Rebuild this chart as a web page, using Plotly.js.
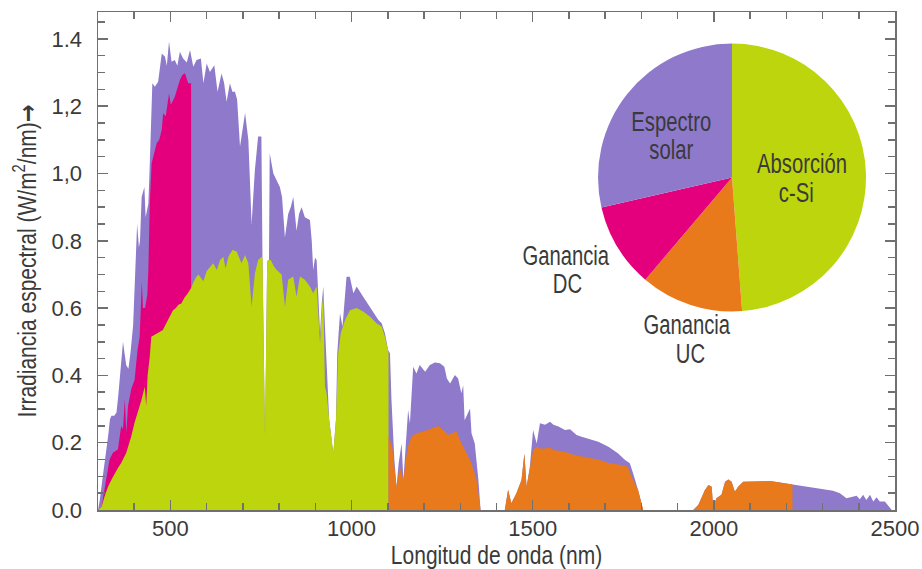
<!DOCTYPE html>
<html>
<head>
<meta charset="utf-8">
<script src="https://cdn.plot.ly/plotly-3.0.1.min.js"></script>
<style>
  html, body { margin: 0; padding: 0; background: #fff; }
  #chart { width: 922px; height: 569px; }
</style>
</head>
<body>
<div id="chart"></div>
<script>
// AM1.5 solar spectrum (W/m²/nm) versus wavelength (nm)
const spectrumNm = [300,305,312,320,328,333,337,345,351,356,360,364,369,374,378,384,390,397,401,405,408,413,416,420.5,428,431.5,439,443,447,450,457,466,476,485,490,496,503,512,519,526,535,545,554,563,572,584,591,600,609,621,630,641,648,655,664,671,678,684,692,699,706,715,724,733,742,751,752,754,761,767,772,774,784,793,802,808,816,825,832,839,848,855,862,871,885,890,894,899,903.5,908,913,918,922,926.5,930,933,938,945,949.5,957,960.5,968,975,986,995,1005,1014,1032,1051,1069,1074,1083,1092,1101,1106,1110,1114,1118,1124,1130,1138,1143,1150,1156,1161,1170,1179,1188,1203,1216,1230,1244,1256,1263,1272,1285,1294,1303,1308,1312,1320,1327,1331,1340,1350,1356,1423,1432,1441,1455,1469,1477,1483,1492,1501,1511,1520,1534,1548,1557,1571,1589,1603,1621,1635,1653,1681,1709,1736,1754,1768,1777,1791,1805,1943,1957,1975,1985,1994,1998,2007,2021,2031,2040,2049,2058,2067,2081,2118,2155,2182,2215,2228,2256,2283,2311,2329,2348,2366,2394,2403,2412,2421,2431,2440,2449,2458,2472,2486,2491,2500];
const spectrumIrr = [0,0.03,0.09,0.15,0.22,0.27,0.28,0.28,0.29,0.34,0.39,0.43,0.50,0.46,0.43,0.42,0.47,0.55,0.68,0.80,0.85,0.78,0.80,0.93,0.96,0.87,0.91,1.03,1.20,1.268,1.258,1.273,1.357,1.347,1.32,1.392,1.332,1.337,1.32,1.362,1.342,1.33,1.367,1.317,1.337,1.342,1.268,1.327,1.302,1.322,1.243,1.297,1.27,1.213,1.268,1.243,1.243,1.22,1.08,1.13,1.18,1.10,0.85,1.01,1.11,1.11,0.753,0.75,0.22,0.74,0.743,1.06,1.00,0.98,0.96,0.93,0.81,0.88,0.90,0.93,0.83,0.88,0.90,0.87,0.862,0.80,0.713,0.75,0.743,0.64,0.525,0.62,0.664,0.545,0.45,0.40,0.27,0.208,0.168,0.27,0.466,0.585,0.545,0.693,0.693,0.644,0.664,0.634,0.604,0.574,0.565,0.555,0.525,0.475,0.466,0.33,0.21,0.15,0.069,0.14,0.198,0.089,0.20,0.297,0.257,0.426,0.406,0.431,0.411,0.431,0.438,0.436,0.426,0.391,0.376,0.401,0.391,0.347,0.371,0.267,0.285,0.302,0.228,0.198,0.089,0,0,0.06,0.02,0.05,0.089,0.168,0.069,0.128,0.238,0.198,0.258,0.253,0.262,0.253,0.248,0.238,0.24,0.223,0.218,0.213,0.203,0.188,0.168,0.149,0.139,0.109,0.059,0,0,0.015,0.059,0.074,0.069,0.01,0.035,0.045,0.084,0.091,0.084,0.054,0.069,0.084,0.086,0.086,0.082,0.076,0.074,0.069,0.064,0.059,0.057,0.05,0.035,0.042,0.032,0.045,0.03,0.045,0.025,0.038,0.025,0.025,0.005,0,0];

// Ganancia DC: down-conversion gain, 300–557 nm
const dcNm = [300,310,316,323,332,341,355,364,369,374,378,383,392,401,409,415,421,424,430,436,439,443,448,455,462,469,476,480,487,496,501,512,519,526,533,540,549,557];
const dcIrr = [0,0.01,0.05,0.09,0.15,0.17,0.18,0.25,0.24,0.33,0.23,0.31,0.36,0.386,0.475,0.515,0.68,0.60,0.60,0.64,0.713,0.911,1.03,1.06,1.09,1.10,1.13,1.179,1.17,1.238,1.204,1.228,1.25,1.278,1.293,1.298,1.268,1.268];

// Absorción c-Si: part of the spectrum absorbed by crystalline silicon
const absorbNm = [300,310,318,328,337,346,355,364,371,378,385,392,401,410,420,429,433,437,443,447,455,461,470,479,486,493,500,507,515,522,530,538,548,557,563,570,577,584,591,600,609,618,628,637,646,652,660,671,683,689,696,706,715,724,733,742,752,754,761,767,772,777,785,793,807,816,825,839,848,857.5,871,885,894,903.5,908,913,918,922,926.5,931,938,945,949.5,957,963,970,982,995.5,1014,1032,1051,1069,1083,1092,1099.5,1102];
const absorbIrr = [0,0.01,0.04,0.07,0.09,0.11,0.125,0.14,0.155,0.17,0.195,0.22,0.26,0.29,0.327,0.366,0.31,0.40,0.456,0.515,0.52,0.525,0.53,0.535,0.55,0.565,0.58,0.594,0.60,0.61,0.614,0.63,0.644,0.66,0.675,0.69,0.70,0.69,0.68,0.71,0.72,0.733,0.713,0.743,0.753,0.718,0.753,0.773,0.768,0.753,0.733,0.758,0.733,0.604,0.703,0.743,0.753,0.75,0.22,0.74,0.743,0.743,0.725,0.713,0.70,0.604,0.684,0.694,0.634,0.694,0.684,0.664,0.644,0.664,0.58,0.495,0.60,0.64,0.366,0.347,0.27,0.208,0.168,0.27,0.466,0.525,0.565,0.594,0.60,0.59,0.574,0.555,0.545,0.515,0.475,0.468];

// Ganancia UC: up-conversion gain, 1102–2217 nm
const ucNm = [1102,1108,1112,1118,1124,1133,1143,1150,1156,1165,1179,1198,1221,1239,1253,1267,1276,1290,1299,1312,1331,1345,1356,1423,1432,1441,1455,1469,1477,1483,1492,1497,1501,1511,1520,1534,1548,1557,1571,1589,1610,1630,1653,1681,1709,1736,1762,1772,1791,1805,1943,1957,1975,1985,1994,1998,2007,2021,2031,2040,2049,2058,2067,2081,2118,2155,2182,2215,2217];
const ucIrr = [0.22,0.20,0.188,0.13,0.069,0.128,0.089,0.15,0.188,0.218,0.228,0.233,0.243,0.25,0.238,0.223,0.228,0.233,0.208,0.178,0.139,0.089,0,0,0.06,0.02,0.05,0.089,0.168,0.069,0.128,0.165,0.178,0.188,0.183,0.183,0.185,0.178,0.175,0.173,0.165,0.16,0.155,0.15,0.14,0.135,0.129,0.10,0.059,0,0,0.015,0.059,0.074,0.069,0.01,0.035,0.045,0.084,0.091,0.084,0.054,0.069,0.084,0.086,0.086,0.082,0.076,0.0759];

// Share of each part, shown in the pie
const pieLabels = ['Absorción c-Si', 'Ganancia UC', 'Ganancia DC', 'Espectro solar'];
const pieShares = [48.8, 12.4, 10.2, 28.6];

// Axis ticks
const xTickVals = [500, 1000, 1500, 2000, 2500];
const yTickVals = [0, 0.2, 0.4, 0.6, 0.8, 1.0, 1.2, 1.4];
const yTickText = ['0.0', '0.2', '0.4', '0.6', '0.8', '1,0', '1,2', '1.4'];

const COLORS = {
  solar: '#8e79cb',
  dc: '#e4007c',
  absorb: '#bdd50c',
  uc: '#e97a1c'
};

const TEXT = '#3a3a3a';
const FRAME = '#707070';
const SANS = '"Liberation Sans", Arial, sans-serif';

function area(x, y, color, name) {
  return {
    type: 'scatter', mode: 'lines', name: name,
    x: x, y: y,
    fill: 'tozeroy', fillcolor: color,
    line: { width: 0, color: color },
    hoverinfo: 'skip', showlegend: false
  };
}

const traces = [
  area(spectrumNm, spectrumIrr, COLORS.solar, 'Espectro solar'),
  area(dcNm, dcIrr, COLORS.dc, 'Ganancia DC'),
  area(absorbNm, absorbIrr, COLORS.absorb, 'Absorción c-Si'),
  area(ucNm, ucIrr, COLORS.uc, 'Ganancia UC'),
  {
    type: 'pie',
    labels: pieLabels,
    values: pieShares,
    marker: { colors: [COLORS.absorb, COLORS.uc, COLORS.dc, COLORS.solar], line: { width: 0 } },
    sort: false,
    direction: 'clockwise',
    rotation: 0,
    textinfo: 'none',
    hoverinfo: 'label+percent',
    showlegend: false,
    domain: { x: [0.6274, 0.9636], y: [0.3986, 0.9368] }
  }
];

const axisCommon = {
  showgrid: false,
  zeroline: false,
  showline: true,
  linecolor: FRAME,
  linewidth: 1.5,
  mirror: 'ticks',
  ticks: 'inside',
  ticklen: 10,
  tickwidth: 1.5,
  tickcolor: FRAME,
  tickfont: { family: SANS, size: 22, color: TEXT },
  automargin: false,
  fixedrange: true
};

const titleFont = { family: SANS, size: 25, color: TEXT };
const labelFont = { family: SANS, size: 27, color: TEXT };

// One line of a pie label, centred on (x, y) in paper coordinates
function pieLabel(text, x, y) {
  return {
    xref: 'paper', yref: 'paper', x: x, y: y,
    xanchor: 'center', yanchor: 'middle',
    text: text, showarrow: false, align: 'center',
    font: labelFont
  };
}

const layout = {
  width: 922,
  height: 569,
  margin: { l: 98, r: 27, t: 12, b: 59, pad: 0 },
  paper_bgcolor: '#ffffff',
  plot_bgcolor: '#ffffff',
  showlegend: false,
  xaxis: Object.assign({}, axisCommon, {
    range: [300, 2500],
    tickmode: 'array',
    tickvals: xTickVals,
    ticklabelstandoff: -2,
    minor: { tickmode: 'linear', tick0: 0, dtick: 100, ticks: 'inside', ticklen: 7, tickwidth: 1.5, tickcolor: FRAME },
    title: { text: 'Longitud de onda (nm)', font: titleFont, standoff: 11 }
  }),
  yaxis: Object.assign({}, axisCommon, {
    range: [0, 1.48],
    tickmode: 'array',
    tickvals: yTickVals,
    ticktext: yTickText,
    ticklabelstandoff: 10,
    minor: { tickmode: 'linear', tick0: 0, dtick: 0.05, ticks: 'inside', ticklen: 7, tickwidth: 1.5, tickcolor: FRAME },
    title: {
      text: 'Irradiancia espectral (W/m<sup>2</sup>/nm)<span style="font-family:DejaVu Sans;font-weight:bold">\u2192</span>',
      font: titleFont,
      standoff: 8
    }
  }),
  annotations: [
    pieLabel('Espectro', 0.7198, 0.7801),
    pieLabel('solar', 0.7198, 0.7233),
    pieLabel('Absorción', 0.8829, 0.6952),
    pieLabel('c-Si', 0.8758, 0.6369),
    pieLabel('Ganancia', 0.5878, 0.5110),
    pieLabel('DC', 0.5891, 0.4530),
    pieLabel('Ganancia', 0.7397, 0.3705),
    pieLabel('UC', 0.7440, 0.3127)
  ]
};

// Narrow the glyphs horizontally to get a condensed typeface look
function condense(nodes, factor) {
  nodes.forEach(function (node) {
    const full = node.getComputedTextLength();
    if (!full) return;
    node.setAttribute('textLength', (full * factor).toFixed(1));
    node.setAttribute('lengthAdjust', 'spacingAndGlyphs');
  });
}

Plotly.newPlot('chart', traces, layout, { displayModeBar: false, staticPlot: true }).then(function (gd) {
  condense(gd.querySelectorAll('text.xtitle, text.ytitle'), 0.84);
  condense(gd.querySelectorAll('text.annotation-text'), 0.75);
});
</script>
</body>
</html>
